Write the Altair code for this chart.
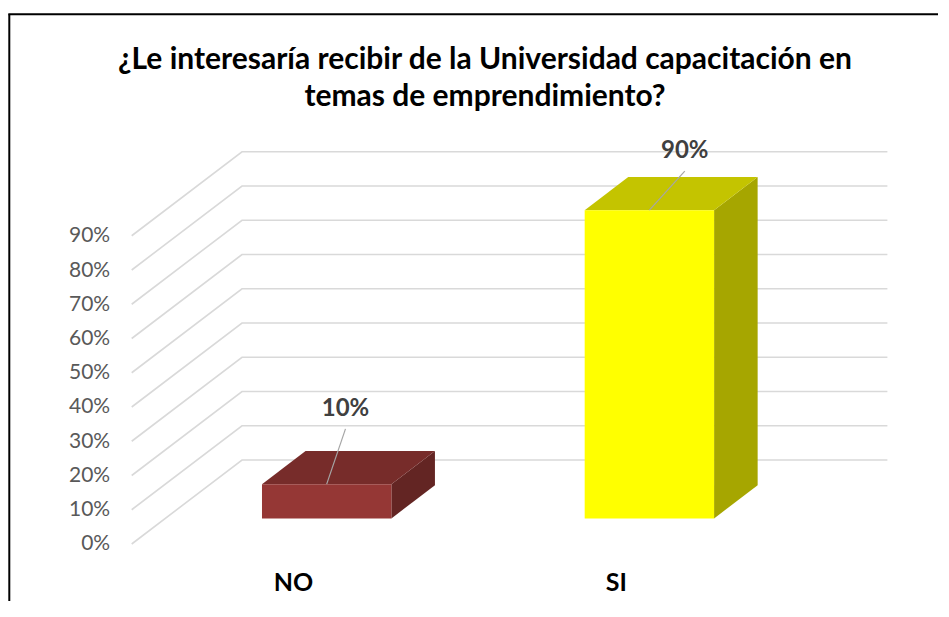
import json
import altair as alt
import pandas as pd

# ---------------- data ----------------
categories = ["NO", "SI"]
values = [0.10, 0.90]
y_ticks = [0.0, 0.1, 0.2, 0.3, 0.4, 0.5, 0.6, 0.7, 0.8, 0.9]
front_colors = ["#953735", "#FFFF00"]
top_colors = ["#772C2A", "#C4C400"]
side_colors = ["#632523", "#A6A600"]
title_lines = ["¿Le interesaría recibir de la Universidad capacitación en",
               "temas de emprendimiento?"]

# ---------------- layout (pixels / 3-D projection) ----------------
PX_X = 322.7            # px per category unit
PX_Y = 342.5            # px per 100 %
Y_MAX = 1.2
W = PX_X * len(categories)
H = PX_Y * Y_MAX
DEPTH_X = 110.3 / PX_X  # x shift (data units) for full depth
DEPTH_Y = 84.0 / PX_Y   # y shift (data units) for full depth
D_FRONT, D_BACK = 0.305, 0.70
HALF_W = 0.2005
# data-label offsets (px) from the top-front-centre of each bar
label_offsets = {"NO": (18.8, -75.3), "SI": (35.4, -59.0)}
LEADER_GAP = 20.0

xs = alt.Scale(domain=[0, len(categories)], nice=False, zero=False)
ys = alt.Scale(domain=[0, Y_MAX], nice=False, zero=False)

# ---------------- derived tables ----------------
grid_rows = []
for t in y_ticks:
    pts = [(0, t, 0), (0, t, 1), (len(categories), t, 1)]
    for i, (gx, gv, d) in enumerate(pts):
        grid_rows.append({"tick": t, "o": i,
                          "gx": gx + DEPTH_X * d, "gy": gv + DEPTH_Y * d})
grid_df = pd.DataFrame(grid_rows)

front_rows, top_rows, side_rows, lab_rows = [], [], [], []
for i, (c, v) in enumerate(zip(categories, values)):
    X = i + 0.5
    front_rows.append({"cat": c, "col": front_colors[i],
                       "x0": X - HALF_W + DEPTH_X * D_FRONT,
                       "x1": X + HALF_W + DEPTH_X * D_FRONT,
                       "y0": DEPTH_Y * D_FRONT,
                       "y1": v + DEPTH_Y * D_FRONT})
    for d in (D_FRONT, D_BACK):
        top_rows.append({"cat": c, "col": top_colors[i],
                         "ty": v + DEPTH_Y * d,
                         "tx0": X - HALF_W + DEPTH_X * d,
                         "tx1": X + HALF_W + DEPTH_X * d})
        side_rows.append({"cat": c, "col": side_colors[i],
                          "sx": X + HALF_W + DEPTH_X * d,
                          "sy0": DEPTH_Y * d,
                          "sy1": v + DEPTH_Y * d})
    ax = X + DEPTH_X * D_FRONT
    ay = v + DEPTH_Y * D_FRONT
    ox, oy = label_offsets[c]
    lx = ax + ox / PX_X
    ly = ay - oy / PX_Y
    lab_rows.append({"cat": c, "txt": f"{round(v * 100)}%",
                     "lx": lx, "ly": ly,
                     "ly2": ly - LEADER_GAP / PX_Y,
                     "ax": ax, "ay": ay})
front_df = pd.DataFrame(front_rows)
top_df = pd.DataFrame(top_rows)
side_df = pd.DataFrame(side_rows)
lab_df = pd.DataFrame(lab_rows)

label_expr = f"{json.dumps(categories)}[floor(datum.value)]"

grid = alt.Chart(grid_df).mark_line(color="#D9D9D9", strokeWidth=1.6).encode(
    x=alt.X("gx:Q", scale=xs, title=None,
            axis=alt.Axis(values=[i + 0.5 for i in range(len(categories))],
                          labelExpr=label_expr)),
    y=alt.Y("gy:Q", scale=ys, title=None,
            axis=alt.Axis(values=y_ticks, format=".0%")),
    detail="tick:N",
    order="o:Q",
)

front = alt.Chart(front_df).mark_rect().encode(
    x=alt.X("x0:Q", scale=xs, title=None), x2="x1:Q",
    y=alt.Y("y0:Q", scale=ys, title=None), y2="y1:Q",
    color=alt.Color("col:N", scale=None),
)

top = alt.Chart(top_df).mark_area(orient="horizontal").encode(
    y=alt.Y("ty:Q", scale=ys, title=None),
    x=alt.X("tx0:Q", scale=xs, title=None), x2="tx1:Q",
    color=alt.Color("col:N", scale=None),
    detail="cat:N",
)

side = alt.Chart(side_df).mark_area(orient="vertical").encode(
    x=alt.X("sx:Q", scale=xs, title=None),
    y=alt.Y("sy0:Q", scale=ys, title=None), y2="sy1:Q",
    color=alt.Color("col:N", scale=None),
    detail="cat:N",
)

leader = alt.Chart(lab_df).mark_rule(color="#A6A6A6", strokeWidth=1.2).encode(
    x=alt.X("lx:Q", scale=xs, title=None), x2="ax:Q",
    y=alt.Y("ly2:Q", scale=ys, title=None), y2="ay:Q",
)

labels = alt.Chart(lab_df).mark_text(
    font="Lato", fontSize=24, fontWeight="bold", color="#404040",
    baseline="middle", align="center").encode(
    x=alt.X("lx:Q", scale=xs, title=None),
    y=alt.Y("ly:Q", scale=ys, title=None),
    text="txt:N",
)

frame_df = pd.DataFrame({"k": [0]})
frame_left = alt.Chart(frame_df).mark_rule(color="#000000", strokeWidth=2).encode(
    x=alt.value(-122.4), y=alt.value(-118.7), y2=alt.value(H + 80))
frame_top = alt.Chart(frame_df).mark_rule(color="#000000", strokeWidth=2).encode(
    x=alt.value(-123.4), x2=alt.value(W + 200), y=alt.value(-118.7))

chart = alt.layer(grid, side, top, front, leader, labels, frame_left, frame_top).properties(
    width=W, height=H,
    autosize=alt.AutoSizeParams(type="none"),
    padding={"left": 123.7, "top": 125, "right": 161, "bottom": 57},
    title=alt.TitleParams(text=title_lines, font="Lato", fontSize=30,
                          fontWeight="bold", color="#000000", anchor="middle",
                          frame="group", baseline="alphabetic",
                          dx=30.6, offset=-123, lineHeight=37),
).configure_view(strokeWidth=0).configure_axisX(
    grid=False, domain=False, ticks=False, labelFont="Lato",
    labelFontSize=25, labelFontWeight="bold", labelColor="#000000",
    labelBaseline="middle", labelPadding=39,
).configure_axisY(
    grid=False, domain=False, ticks=False, labelFont="Lato",
    labelFontSize=21, labelColor="#595959", labelPadding=22,
)

chart.save("out.html", embed_options={"renderer": "svg", "actions": False})
